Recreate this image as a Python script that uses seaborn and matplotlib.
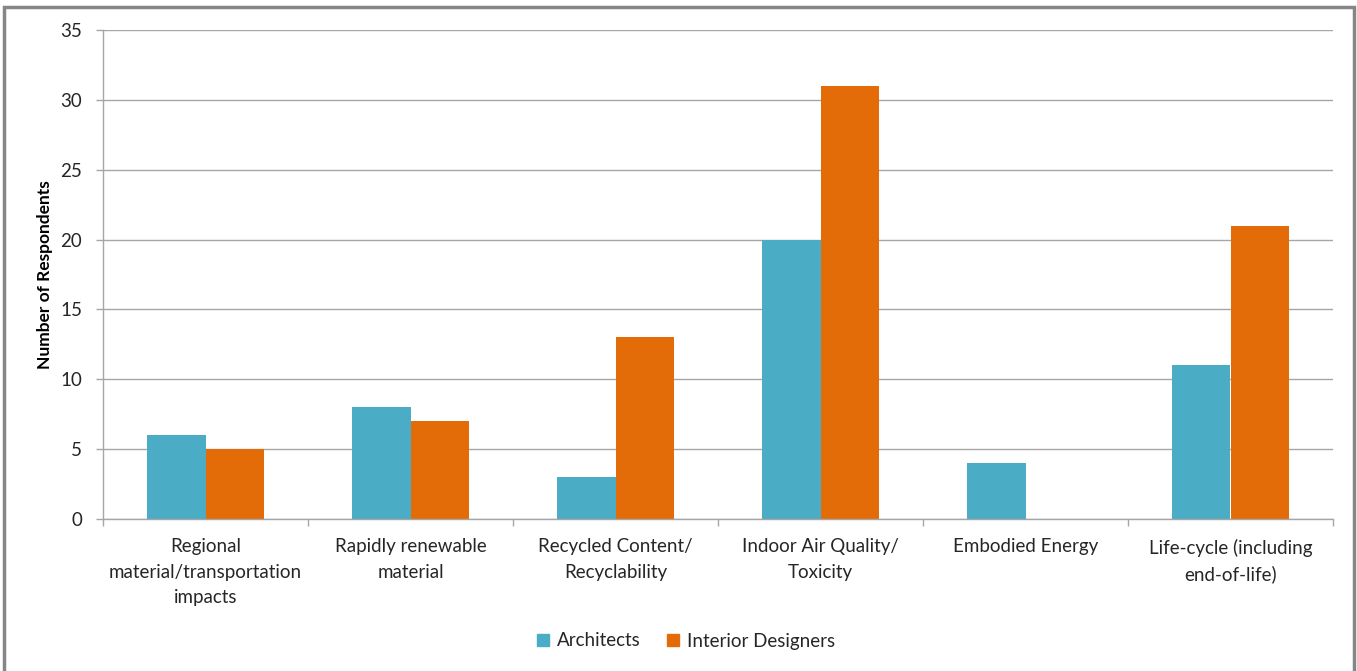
import matplotlib
matplotlib.use("Agg")
import matplotlib.pyplot as plt
from matplotlib.patches import Rectangle
from matplotlib.lines import Line2D
import seaborn as sns
import pandas as pd

categories = [
    "Regional\nmaterial/transportation\nimpacts",
    "Rapidly renewable\nmaterial",
    "Recycled Content/\nRecyclability",
    "Indoor Air Quality/\nToxicity",
    "Embodied Energy",
    "Life-cycle (including\nend-of-life)",
]
architects = [6, 8, 3, 20, 4, 11]
interior_designers = [5, 7, 13, 31, 0, 21]
series_names = ["Architects", "Interior Designers"]
colors = ["#4BACC6", "#E36C09"]
y_ticks = [0, 5, 10, 15, 20, 25, 30, 35]

df = pd.DataFrame({
    "Category": categories * 2,
    "Group": [series_names[0]] * len(categories) + [series_names[1]] * len(categories),
    "Respondents": architects + interior_designers,
})

sns.set_theme(style="white")
plt.rcParams["font.family"] = ["Lato", "DejaVu Sans"]

text_c = "#262626"
fs = 13.5

fig = plt.figure(figsize=(13.57, 6.71), dpi=100)
ax = fig.add_axes([103 / 1357, 1 - 519 / 671, 1230 / 1357, 489 / 671])

sns.barplot(data=df, x="Category", y="Respondents", hue="Group",
            palette=colors, width=0.57, saturation=1, ax=ax,
            edgecolor="none", linewidth=0, legend=False)

grid_c = "#A6A6A6"
ax.set_ylim(0, 35)
ax.set_xlim(-0.5, len(categories) - 0.5)
ax.set_yticks(y_ticks)
ax.set_yticklabels([str(v) for v in y_ticks], fontsize=fs, color=text_c)
ax.yaxis.grid(True, color=grid_c, linewidth=1)
ax.set_axisbelow(True)
ax.tick_params(axis="y", length=5, width=1, color=grid_c, pad=10, left=True)

# category labels centred, separator ticks between categories
ax.set_xticks(range(len(categories)))
ax.set_xticklabels(categories, fontsize=fs, color=text_c, linespacing=1.6, va="top")
ax.tick_params(axis="x", length=0, pad=14)
ax.set_xticks([i - 0.5 for i in range(len(categories) + 1)], minor=True)
ax.tick_params(axis="x", which="minor", length=5, width=1, color=grid_c, bottom=True)

for s in ["top", "right"]:
    ax.spines[s].set_visible(False)
for s in ["left", "bottom"]:
    ax.spines[s].set_color(grid_c)
    ax.spines[s].set_linewidth(1)

ax.set_xlabel("")
ax.set_ylabel("Number of Respondents", fontsize=12.5, fontweight="bold", color="black")
ax.yaxis.set_label_coords(-0.041, 0.5)

handles = [Line2D([0], [0], marker="s", linestyle="none", markersize=8,
                  markerfacecolor=c, markeredgecolor=c) for c in colors]
fig.legend(handles, series_names, loc="center", bbox_to_anchor=(685 / 1357, 1 - 641 / 671),
           ncol=2, frameon=False, fontsize=fs, handlelength=0.8, handletextpad=0.35,
           columnspacing=1.3, labelcolor=text_c)

# outer chart frame
fig.patches.append(Rectangle((4 / 1357, -0.05), 1350 / 1357, 1.05 - 7 / 671,
                             transform=fig.transFigure, fill=False,
                             edgecolor="#868686", linewidth=2.5))

fig.savefig("out.png", dpi=100)
